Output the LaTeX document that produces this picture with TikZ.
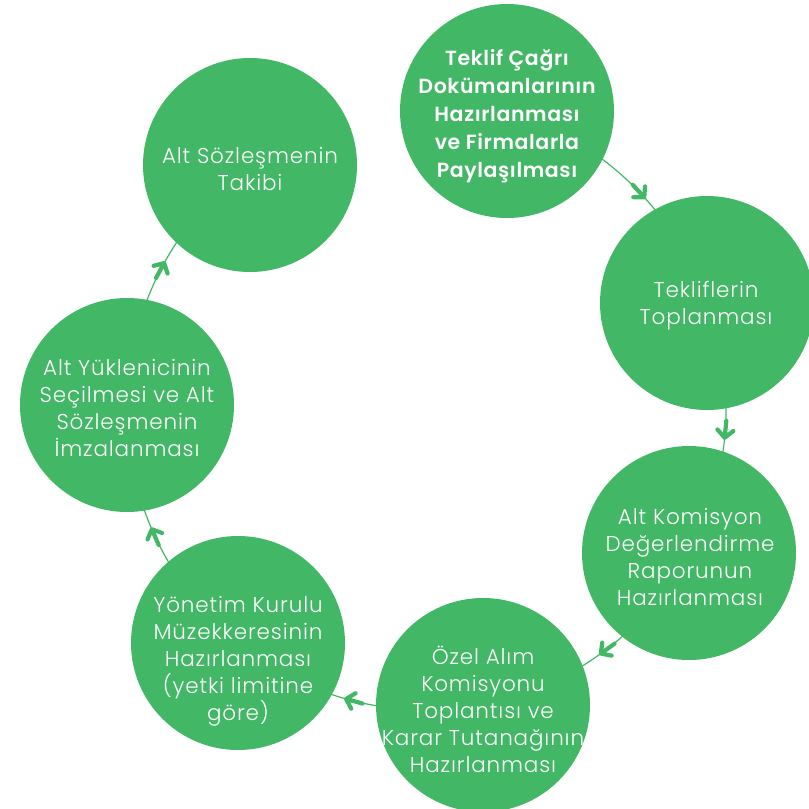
\documentclass[tikz,border=0pt]{standalone}
\usepackage{fontspec}
\usetikzlibrary{decorations.markings}
\IfFontExistsTF{Poppins Light}{\newfontfamily\lightfont{Poppins Light}[LetterSpace=4]}{\newfontfamily\lightfont{Poppins}[LetterSpace=4]}
\IfFontExistsTF{Poppins SemiBold}{\newfontfamily\boldfont{Poppins SemiBold}[LetterSpace=3]}{\newfontfamily\boldfont{Poppins}[UprightFont=*Bold,LetterSpace=3]}
\definecolor{grn}{RGB}{66,183,101}
\pgfdeclarelayer{bg}
\pgfsetlayers{bg,main}
\tikzset{
  bub/.style={circle, fill=grn, draw=none, inner sep=0pt, minimum size=214pt},
  ltxt/.style={text=white, align=center, inner sep=0pt, font={\lightfont\fontsize{21.5}{27}\selectfont}},
  btxt/.style={text=white, align=center, inner sep=0pt, font={\boldfont\fontsize{20.5}{28}\selectfont}},
  conn/.style={draw=grn, line width=1.2pt, looseness=0.9,
    postaction={decorate},
    decoration={markings, mark=at position #1 with {
      \draw[grn, line width=4.2pt, line cap=round, line join=round]
        (-17pt,0pt) -- (0pt,0pt) (-7.5pt,8pt) -- (0pt,0pt) -- (-7.5pt,-8pt);
    }}}
}
\begin{document}
\begin{tikzpicture}[x=1pt,y=-1pt]
\useasboundingbox (0,0) rectangle (809,809);
\node[bub] (c1) at (507,111) {};
\node[bub] (c2) at (707,303) {};
\node[bub] (c3) at (689,553) {};
\node[bub] (c4) at (483,705) {};
\node[bub] (c5) at (238,643) {};
\node[bub] (c6) at (127,405) {};
\node[bub] (c7) at (250,165) {};
\begin{pgfonlayer}{bg}
\draw[conn=0.57] (c1.center) to[bend left=27.2] (c2.center);
\draw[conn=0.53] (c2.center) to[bend left=24.5] (c3.center);
\draw[conn=0.51] (c3.center) to[bend left=25.0] (c4.center);
\draw[conn=0.53] (c4.center) to[bend left=24.7] (c5.center);
\draw[conn=0.53] (c5.center) to[bend left=25.7] (c6.center);
\draw[conn=0.53] (c6.center) to[bend left=26.5] (c7.center);
\end{pgfonlayer}
\node[btxt] (t1) at (507,116) {Teklif Çağrı\\Dokümanlarının\\Hazırlanması\\ve Firmalarla\\Paylaşılması};
\node[ltxt] (t2) at (706,306) {Tekliflerin\\Toplanması};
\node[ltxt] (t3) at (690,557) {Alt Komisyon\\Değerlendirme\\Raporunun\\Hazırlanması};
\node[ltxt] (t4) at (483,709) {Özel Alım\\Komisyonu\\Toplantısı ve\\Karar Tutanağının\\Hazırlanması};
\node[ltxt] (t5) at (238,661) {Yönetim Kurulu\\Müzekkeresinin\\Hazırlanması\\(yetki limitine\\göre)};
\node[ltxt] (t6) at (127,408) {Alt Yüklenicinin\\Seçilmesi ve Alt\\Sözleşmenin\\İmzalanması};
\node[ltxt] (t7) at (250,169) {Alt Sözleşmenin\\Takibi};
\end{tikzpicture}
\end{document}
